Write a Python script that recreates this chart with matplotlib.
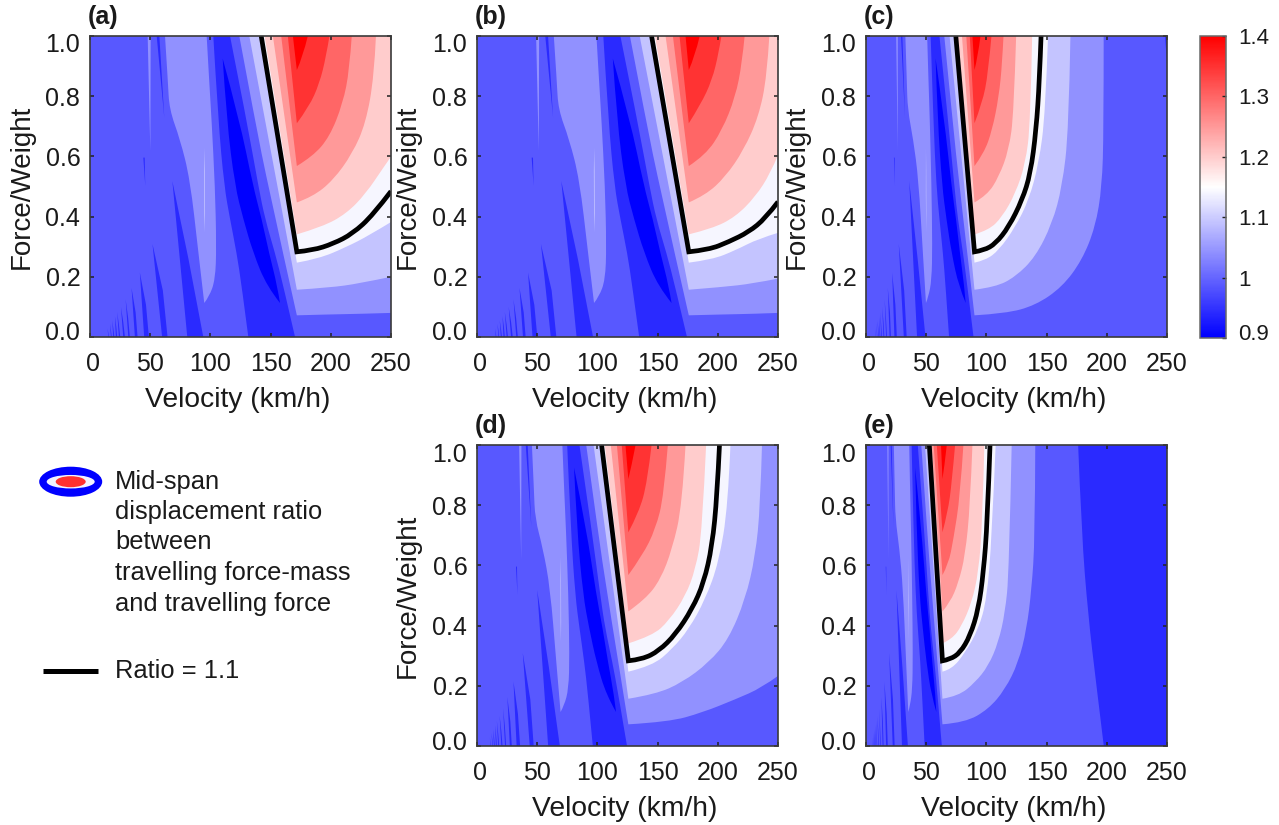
import matplotlib
matplotlib.use("Agg")
import numpy as np
import matplotlib.pyplot as plt
from matplotlib.path import Path
from matplotlib.patches import PathPatch, Ellipse
from matplotlib.colors import LinearSegmentedColormap, Normalize
from matplotlib.cm import ScalarMappable
from matplotlib.transforms import ScaledTranslation

plt.rcParams['font.family'] = ['Liberation Sans', 'DejaVu Sans']

# ---------- tick labels / text ----------
X_TICKS = [0, 50, 100, 150, 200, 250]
Y_TICKS = [0.0, 0.2, 0.4, 0.6, 0.8, 1.0]
Y_TICK_LABELS = ['0.0', '0.2', '0.4', '0.6', '0.8', '1.0']
CB_TICKS = [0.9, 1.0, 1.1, 1.2, 1.3, 1.4]
CB_LABELS = ['0.9', '1', '1.1', '1.2', '1.3', '1.4']
LEGEND_LINES = ['Mid-span', 'displacement ratio', 'between', 'travelling force-mass', 'and travelling force']

# ---------- band colours ----------
C_095 = '#0000FF'
C_100 = '#2A2AFF'
C_105 = '#5858FF'
C_110 = '#9191FF'
C_115 = '#C4C4FF'
C_120 = '#F6F6FF'
C_125 = '#FFCCCC'
C_130 = '#FF9999'
C_135 = '#FF6666'
C_140 = '#FF3333'
C_145 = '#FF0000'

# ---------- shared force/weight levels of the left structures ----------
BLOB_F = [1,.85,.756,.657,.524,.281,.113,.134,.19,.3,.5,.72,.85,1]
BAND_F = [1,.72,.5,.392,.279,.169,0,0,.169,.279,.392,.5,.72,1]
CORE_F = [.925,.721,.502,.392,.279,.169,.113,.169,.279,.392,.502,.724]
TIP_F = [.518,.309,.214,.163,.125,.1,.083,.069,.055,.044,.028]

# ---------- panel (a): velocities and (velocity, force/weight) regions ----------
A_BLOB_V = [62.3,64.7,65.9,74.8,83.1,90,94.9,99,104,105,103.8,101,99,96.9]
A_BAND_V = [102.4,106.5,111.5,116.3,121.8,126,131.5,170.3,160.6,153.7,145.4,139.9,130.1,116.3]
A_CORE_V = [110.2,113.5,120.4,127.3,135.6,146.8,157.8,155.6,148.7,142.6,135.4,124]
A_PALE = [(95,.629),(96,.47),(95.3,.346),(94.3,.47)]
A_TOPBLUE = [(55.4,1),(57.6,1),(61.7,.729)]
A_TOPLIGHT = [(47.9,1),(50.4,1),(50.1,.618)]
A_TINY = [(44.3,.596),(45.9,.502),(45.4,.596)]
A_TIP_V = [68.4,51.9,41.4,34.5,29.6,25.7,22.6,20.7,18.5,16.6,14.6]
A_BASE_L = [80.8,59.9,45,37.3,31.8,27.6,24,21.5,19.3,17.4,15.2]
A_BASE_R = [94.1,64.4,48.9,39.5,33.1,29,25.1,22.6,20.2,18,15.7]
A_MID_R = [81.8,60.5,46.5,37.9,31.7,27.6,24,21.8,19.4,17.4,15.2]
A_L110 = [(124,1),(137,.72),(148,.5),(171.8,.072),(199,.075),(225,.077),(250,.08),(250,1)]
A_L115 = [(132.3,1),(171.8,.157),(199,.164),(224,.178),(250,.2),(250,1)]
A_L120 = [(140.6,1),(171.8,.247),(190,.26),(213,.299),(232,.338),(250,.382),(250,1)]
A_L125 = [(145,1),(171.8,.341),(193,.366),(213,.41),(229,.476),(244,.565),(250,.599),(250,1)]
A_L130 = [(151.9,1),(171.8,.447),(185,.466),(202,.521),(218,.61),(229,.71),(236,.866),(237.5,1)]
A_L135 = [(158.8,1),(171.8,.568),(185,.6),(199,.665),(210,.776),(215.5,.887),(217.4,1)]
A_L140 = [(164.3,1),(171.8,.71),(182,.765),(190.6,.843),(196,.93),(198.9,1)]
A_L145 = [(168.5,1),(171.8,.887),(176.7,.93),(180.9,1)]
A_RATIO = [(142.2,1),(171.8,.283),(185,.288),(202,.31),(218,.343),(235,.405),(250,.484)]

# ---------- panel (b) ----------
B_BLOB_V = [63.8,66.3,67.5,76.6,85.1,92.2,97.2,101.4,106.5,107.5,106.3,103.4,101.4,99.2]
B_BAND_V = [104.9,109.1,114.2,119.1,124.8,129,134.7,174.4,164.5,157.4,148.9,143.3,133.2,119.1]
B_CORE_V = [112.8,116.2,123.3,130.4,138.9,150.3,161.6,159.3,152.3,146,138.6,127]
B_PALE = [(97.3,.629),(98.3,.47),(97.6,.346),(96.6,.47)]
B_TOPBLUE = [(56.7,1),(59,1),(63.2,.729)]
B_TOPLIGHT = [(49.1,1),(51.6,1),(51.3,.618)]
B_TINY = [(45.4,.596),(47,.502),(46.5,.596)]
B_TIP_V = [70,53.1,42.4,35.3,30.3,26.3,23.1,21.2,18.9,17,15]
B_BASE_L = [82.7,61.3,46.1,38.2,32.6,28.3,24.6,22,19.8,17.8,15.6]
B_BASE_R = [96.4,65.9,50.1,40.4,33.9,29.7,25.7,23.1,20.7,18.4,16.1]
B_MID_R = [83.8,62,47.6,38.8,32.5,28.3,24.6,22.3,19.9,17.8,15.6]
B_L110 = [(127,1),(140.3,.72),(151.6,.5),(175.9,.072),(205,.075),(230,.077),(250,.08),(250,1)]
B_L115 = [(135.1,1),(175.9,.157),(203.6,.166),(228.4,.177),(250,.194),(250,1)]
B_L120 = [(143.9,1),(175.9,.247),(195.3,.257),(214.6,.288),(233.9,.327),(250,.346),(250,1)]
B_L125 = [(147.8,1),(175.9,.341),(195.3,.36),(214.6,.399),(231.2,.466),(243.6,.543),(250,.604),(250,1)]
B_L130 = [(156.6,1),(175.9,.447),(189.7,.471),(206.3,.532),(221.5,.621),(233.9,.732),(240.8,.865),(242.8,1)]
B_L135 = [(162.7,1),(175.9,.568),(189.7,.604),(203.6,.687),(214.6,.798),(220.1,.909),(222.3,1)]
B_L140 = [(168.2,1),(175.9,.71),(185.6,.771),(195.3,.854),(200.8,.945),(203,1)]
B_L145 = [(173.2,1),(175.9,.887),(180.9,.931),(185,1)]
B_RATIO = [(145,1),(175.9,.283),(192.5,.29),(209,.316),(225.7,.349),(239.5,.394),(250,.449)]

# ---------- panel (c) ----------
C_BLOB_V = [32.7,33.9,34.6,39.2,43.6,47.2,49.8,51.9,54.5,55.1,54.4,53,51.9,50.8]
C_BAND_V = [53.7,55.9,58.5,61,63.9,66.1,69,89.3,84.2,80.6,76.3,73.4,68.2,61]
C_CORE_V = [57.8,59.5,63.2,66.8,71.1,77,82.8,81.6,78,74.8,71,65]
C_PALE = [(49.8,.629),(50.4,.47),(50,.346),(49.5,.47)]
C_TOPBLUE = [(29.1,1),(30.2,1),(32.4,.729)]
C_TOPLIGHT = [(25.1,1),(26.4,1),(26.3,.618)]
C_TINY = [(23.2,.596),(24.1,.502),(23.8,.596)]
C_TIP_V = [35.9,27.2,21.7,18.1,15.5,13.5,11.9,10.9,9.7,8.7,7.7]
C_BASE_L = [42.4,31.4,23.6,19.6,16.7,14.5,12.6,11.3,10.1,9.1,8]
C_BASE_R = [49.4,33.8,25.6,20.7,17.4,15.2,13.2,11.9,10.6,9.4,8.2]
C_MID_R = [42.9,31.7,24.4,19.9,16.6,14.5,12.6,11.4,10.2,9.1,8]
C_L110 = [(65,1),(71.9,.72),(77.6,.5),(90.1,.072),(115.9,.078),(140.7,.105),(162.9,.166),(179.4,.255),(190.5,.366),(196,.499),(197.4,.687),(197.4,1)]
C_L115 = [(69.4,1),(90.1,.157),(107.6,.166),(124.1,.2),(140.7,.266),(154.6,.377),(162.9,.499),(168.4,.687),(169.8,1)]
C_L120 = [(73.7,1),(90.1,.247),(99.3,.255),(110.3,.288),(124.1,.366),(135.2,.455),(143.5,.576),(149,.743),(151.2,1)]
C_L125 = [(76,1),(90.1,.341),(102,.355),(113.1,.399),(124.1,.477),(132.4,.576),(136.6,.71),(138,1)]
C_L130 = [(79.7,1),(90.1,.447),(100.6,.471),(110.3,.532),(118.6,.621),(122.8,.743),(124.7,1)]
C_L135 = [(83.3,1),(90.1,.568),(97.9,.61),(104.8,.687),(110.3,.798),(113.1,.909),(114.2,1)]
C_L140 = [(86.2,1),(90.1,.71),(96.5,.776),(101.5,.876),(104.2,1)]
C_L145 = [(88.4,1),(90.1,.887),(92.9,.931),(95.1,1)]
C_RATIO = [(74.6,1),(90.1,.283),(97.9,.288),(107.6,.31),(118.6,.366),(129.7,.455),(136.6,.543),(141.3,.687),(144.1,.854),(145.4,1)]
C_CORNER = [(248.2,1),(250,1),(250,.91)]

# ---------- panel (d) ----------
D_BLOB_V = [45.6,47.3,48.2,54.7,60.8,65.8,69.4,72.4,76.1,76.8,75.9,73.9,72.4,70.9]
D_BAND_V = [74.9,77.9,81.6,85.1,89.1,92.2,96.2,124.6,117.5,112.4,106.4,102.4,95.2,85.1]
D_CORE_V = [80.6,83,88.1,93.1,99.2,107.4,115.5,113.8,108.8,104.3,99.1,90.7]
D_PALE = [(69.5,.629),(70.2,.47),(69.7,.346),(69,.47)]
D_TOPBLUE = [(40.5,1),(42.1,1),(45.1,.729)]
D_TOPLIGHT = [(35,1),(36.9,1),(36.7,.618)]
D_TINY = [(32.4,.596),(33.6,.502),(33.2,.596)]
D_TIP_V = [50,38,30.3,25.2,21.7,18.8,16.5,15.1,13.5,12.1,10.7]
D_BASE_L = [59.1,43.8,32.9,27.3,23.3,20.2,17.6,15.7,14.1,12.7,11.1]
D_BASE_R = [68.8,47.1,35.8,28.9,24.2,21.2,18.4,16.5,14.8,13.2,11.5]
D_MID_R = [59.8,44.3,34,27.7,23.2,20.2,17.6,15.9,14.2,12.7,11.1]
D_L110 = [(90.7,1),(100.2,.72),(108.3,.5),(125.7,.072),(159.4,.08),(187,.111),(214.6,.155),(236.7,.194),(250,.233),(250,1)]
D_L115 = [(96.8,1),(125.7,.157),(148.3,.172),(170.4,.211),(192.5,.277),(209,.355),(222.9,.488),(231.2,.632),(235.3,.798),(236.7,1)]
D_L120 = [(102.5,1),(125.7,.247),(145.6,.266),(162.1,.322),(175.9,.388),(189.7,.488),(200.8,.61),(208.5,.798),(210.5,1)]
D_L125 = [(106.1,1),(125.7,.341),(145.6,.366),(159.4,.416),(173.2,.499),(181.5,.588),(187,.71),(190.3,1)]
D_L130 = [(111.1,1),(125.7,.447),(140,.488),(152.5,.554),(162.1,.654),(170.4,.798),(173.2,1)]
D_L135 = [(116.2,1),(125.7,.568),(137.3,.632),(148.3,.721),(155.2,.831),(158.5,1)]
D_L140 = [(120.2,1),(125.7,.71),(134.5,.776),(141.4,.876),(145,1)]
D_L145 = [(123.3,1),(125.7,.887),(128.4,.931),(131.7,1)]
D_RATIO = [(103.5,1),(125.7,.283),(137.3,.288),(151.1,.316),(164.9,.371),(178.7,.455),(188.4,.543),(195.3,.665),(199.4,.831),(201.4,1)]

# ---------- panel (e) ----------
E_BLOB_V = [23.1,23.9,24.4,27.7,30.7,33.3,35.1,36.6,38.5,38.9,38.4,37.4,36.6,35.9]
E_BAND_V = [37.9,39.4,41.3,43,45.1,46.6,48.7,63,59.4,56.9,53.8,51.8,48.3,43]
E_CORE_V = [40.8,42,44.5,47.1,50.2,54.3,58.4,57.6,55,52.8,50.1,45.9]
E_PALE = [(35.1,.629),(35.6,.47),(35.3,.346),(34.8,.47)]
E_TOPBLUE = [(20.5,1),(21.3,1),(22.8,.729)]
E_TOPLIGHT = [(17.7,1),(18.7,1),(18.6,.618)]
E_TINY = [(16.4,.596),(17,.502),(16.8,.596)]
E_TIP_V = [25.3,19.2,15.3,12.8,11,9.5,8.4,7.7,6.8,6.1,5.4]
E_BASE_L = [29.9,22.2,16.7,13.8,11.8,10.2,8.9,8,7.1,6.4,5.6]
E_BASE_R = [34.8,23.8,18.1,14.6,12.3,10.7,9.3,8.4,7.5,6.7,5.8]
E_MID_R = [30.3,22.4,17.2,14,11.7,10.2,8.9,8.1,7.2,6.4,5.6]
E_L110 = [(45.9,1),(50.7,.72),(54.8,.5),(63.5,.072),(82.3,.078),(101.6,.122),(115.5,.188),(126.5,.277),(133.4,.388),(137.5,.521),(140.3,.687),(140.6,1)]
E_L115 = [(49,1),(63.5,.157),(76.8,.166),(90.6,.211),(101.6,.266),(109.9,.344),(115.5,.443),(118.8,.576),(121,1)]
E_L120 = [(52,1),(63.5,.247),(71.3,.255),(82.3,.31),(93.4,.388),(100.3,.488),(104.4,.687),(107.7,1)]
E_L125 = [(53.7,1),(63.5,.341),(71.3,.355),(79.5,.399),(87.8,.477),(93.4,.576),(96.7,.743),(98.3,1)]
E_L130 = [(54.7,1),(63.5,.447),(69.9,.477),(76.8,.543),(82.3,.632),(86.5,.798),(88.4,1)]
E_L135 = [(56.2,1),(63.5,.568),(68.5,.604),(72.6,.687),(78.2,.831),(80.9,1)]
E_L140 = [(58.8,1),(63.5,.71),(67.9,.776),(71.3,.876),(74,1)]
E_L145 = [(62.3,1),(63.5,.887),(65.2,.931),(67.1,1)]
E_RATIO = [(52.6,1),(63.5,.283),(69.9,.288),(78.2,.31),(86.5,.366),(93.4,.455),(97.5,.576),(100.8,.743),(103,1)]
E_FAR = [(176.2,1),(179,.71),(184.5,.433),(191.4,.2),(197.5,0),(250,0),(250,1)]

W, H = 1279, 825
fig = plt.figure(figsize=(W / 100, H / 100), dpi=100, facecolor='white')


def is_sharp(a, b, c):
    if b[0] >= 250 or b[1] >= 1 or b[1] <= 0:
        return True
    u = np.array([(b[0] - a[0]) / 250, b[1] - a[1]])
    v = np.array([(c[0] - b[0]) / 250, c[1] - b[1]])
    cosang = u @ v / (np.linalg.norm(u) * np.linalg.norm(v))
    return cosang < 0.55


def smooth_path(pts, closed=True):
    """Quadratic curve through midpoints; real corners stay corners."""
    n = len(pts)
    sharp = [True] * n
    for i in range(1, n - (0 if closed else 1)):
        sharp[i] = is_sharp(pts[i - 1], pts[i], pts[(i + 1) % n])
    verts, codes = [pts[0]], [Path.MOVETO]
    cur = pts[0]
    last = n if closed else n - 1
    for i in range(1, last):
        p = pts[i]
        if sharp[i]:
            if cur != p:
                verts.append(p)
                codes.append(Path.LINETO)
                cur = p
            continue
        j = (i + 1) % n
        nxt = pts[j]
        end = nxt if sharp[j] else ((p[0] + nxt[0]) / 2, (p[1] + nxt[1]) / 2)
        verts += [p, end]
        codes += [Path.CURVE3, Path.CURVE3]
        cur = end
    if closed:
        verts.append(pts[0])
        codes.append(Path.CLOSEPOLY)
    elif cur != pts[-1]:
        verts.append(pts[-1])
        codes.append(Path.LINETO)
    return Path(verts, codes)


def region(ax, pts, color):
    ax.add_patch(PathPatch(smooth_path(pts), facecolor=color, edgecolor='none', linewidth=0))


def nudge(label, dx, dy):
    label.set_transform(label.get_transform() + ScaledTranslation(dx / 100, dy / 100, fig.dpi_scale_trans))


def panel(x, y, letter, blob_v, band_v, core_v, pale, topblue, toplight, tiny, tip_v, base_l, base_r, mid_r,
          l110, l115, l120, l125, l130, l135, l140, l145, ratio, extras=(), ylabel_x=None):
    ax = fig.add_axes([x / W, 1 - (y + 301) / H, 301 / W, 301 / H])
    ax.set_xlim(0, 250)
    ax.set_ylim(0, 1)
    ax.set_facecolor(C_105)
    for pts, c in extras:
        region(ax, pts, c)
    region(ax, list(zip(blob_v, BLOB_F)), C_110)
    region(ax, pale, C_115)
    region(ax, toplight, C_110)
    region(ax, topblue, C_100)
    region(ax, tiny, C_100)
    for tv, tf, bl, br, mr in zip(tip_v, TIP_F, base_l, base_r, mid_r):
        ax.fill([tv, bl, br, mr], [tf, 0, 0, tf / 2], color=C_100, lw=0)
    region(ax, list(zip(band_v, BAND_F)), C_100)
    region(ax, list(zip(core_v, CORE_F)), C_095)
    for pts, c in [(l110, C_110), (l115, C_115), (l120, C_120), (l125, C_125),
                   (l130, C_130), (l135, C_135), (l140, C_140), (l145, C_145)]:
        region(ax, pts, c)
    ax.add_patch(PathPatch(smooth_path(ratio, closed=False), facecolor='none', edgecolor='black',
                           linewidth=3.4, capstyle='butt', joinstyle='miter', zorder=5))
    ax.set_xticks(X_TICKS)
    ax.set_yticks(Y_TICKS)
    ax.set_yticklabels(Y_TICK_LABELS)
    ax.tick_params(direction='in', top=True, right=True, length=3, width=1.1, color='#222222',
                   labelsize=18, labelcolor='#1a1a1a', pad=7)
    ax.tick_params(axis='x', pad=10.5)
    ylabs = ax.get_yticklabels()
    nudge(ylabs[0], 0, 6)
    nudge(ylabs[-1], 0, -7)
    nudge(ax.get_xticklabels()[0], 3, 0)
    for s in ax.spines.values():
        s.set_color('#3a3a3a')
        s.set_linewidth(1.2)
        s.set_zorder(6)
    ax.set_xlabel('Velocity (km/h)', fontsize=20.3, color='#1a1a1a', va='center')
    ax.xaxis.set_label_coords(0.49, -0.21)
    if ylabel_x is not None:
        ax.set_ylabel('Force/Weight', fontsize=20, color='#1a1a1a', va='center')
        ax.yaxis.set_label_coords((ylabel_x - x) / 301, 0.5)
    fig.text((x - 2) / W, 1 - (y - 19) / H, letter, fontsize=18, fontweight='bold', color='#1a1a1a',
             ha='left', va='center')
    return ax


panel(90, 36, '(a)', A_BLOB_V, A_BAND_V, A_CORE_V, A_PALE, A_TOPBLUE, A_TOPLIGHT, A_TINY, A_TIP_V, A_BASE_L, A_BASE_R, A_MID_R,
      A_L110, A_L115, A_L120, A_L125, A_L130, A_L135, A_L140, A_L145, A_RATIO, ylabel_x=22)
panel(477, 36, '(b)', B_BLOB_V, B_BAND_V, B_CORE_V, B_PALE, B_TOPBLUE, B_TOPLIGHT, B_TINY, B_TIP_V, B_BASE_L, B_BASE_R, B_MID_R,
      B_L110, B_L115, B_L120, B_L125, B_L130, B_L135, B_L140, B_L145, B_RATIO, ylabel_x=408)
panel(866, 36, '(c)', C_BLOB_V, C_BAND_V, C_CORE_V, C_PALE, C_TOPBLUE, C_TOPLIGHT, C_TINY, C_TIP_V, C_BASE_L, C_BASE_R, C_MID_R,
      C_L110, C_L115, C_L120, C_L125, C_L130, C_L135, C_L140, C_L145, C_RATIO,
      extras=[(C_CORNER, C_100)], ylabel_x=797)
panel(477, 445, '(d)', D_BLOB_V, D_BAND_V, D_CORE_V, D_PALE, D_TOPBLUE, D_TOPLIGHT, D_TINY, D_TIP_V, D_BASE_L, D_BASE_R, D_MID_R,
      D_L110, D_L115, D_L120, D_L125, D_L130, D_L135, D_L140, D_L145, D_RATIO, ylabel_x=408)
panel(866, 445, '(e)', E_BLOB_V, E_BAND_V, E_CORE_V, E_PALE, E_TOPBLUE, E_TOPLIGHT, E_TINY, E_TIP_V, E_BASE_L, E_BASE_R, E_MID_R,
      E_L110, E_L115, E_L120, E_L125, E_L130, E_L135, E_L140, E_L145, E_RATIO,
      extras=[(E_FAR, C_100)])

# ---------- colour bar ----------
cax = fig.add_axes([1200 / W, 1 - 338 / H, 26 / W, 302 / H])
cmap = LinearSegmentedColormap.from_list('bwr_shift', [(0, '#0000FF'), (0.5, '#FFFFFF'), (1, '#FF0000')])
cb = fig.colorbar(ScalarMappable(norm=Normalize(0.9, 1.4), cmap=cmap), cax=cax)
cb.set_ticks(CB_TICKS)
cb.set_ticklabels(CB_LABELS)
cax.tick_params(direction='in', length=3, width=1, labelsize=16, labelcolor='#1a1a1a', pad=8.5, color='#222222')
nudge(cax.get_yticklabels()[0], 0, 6)
cb.outline.set_edgecolor('#6a6a6a')
cb.outline.set_linewidth(1.1)

# ---------- legend ----------
leg = fig.add_axes([0, 0, 1, 1], zorder=-1)
leg.set_xlim(0, W)
leg.set_ylim(H, 0)
leg.axis('off')
leg.add_patch(Ellipse((70.7, 481.7), 63, 30, facecolor='#0000FF', edgecolor='none'))
leg.add_patch(Ellipse((70.7, 481.7), 48, 13.5, facecolor='#F2F2FF', edgecolor='none'))
leg.add_patch(Ellipse((70.7, 481.7), 30, 11, facecolor='#FF3030', edgecolor='none'))
leg.plot([43, 98], [671, 671], color='black', lw=3.6, solid_capstyle='butt')
for line, yy in zip(LEGEND_LINES, [481.7, 511.7, 541.7, 573.3, 604]):
    leg.text(115, yy, line, fontsize=18.4, color='#1a1a1a', ha='left', va='center')
leg.text(115, 671, 'Ratio = 1.1', fontsize=18.4, color='#1a1a1a', ha='left', va='center')

fig.savefig('out.png', dpi=100)
